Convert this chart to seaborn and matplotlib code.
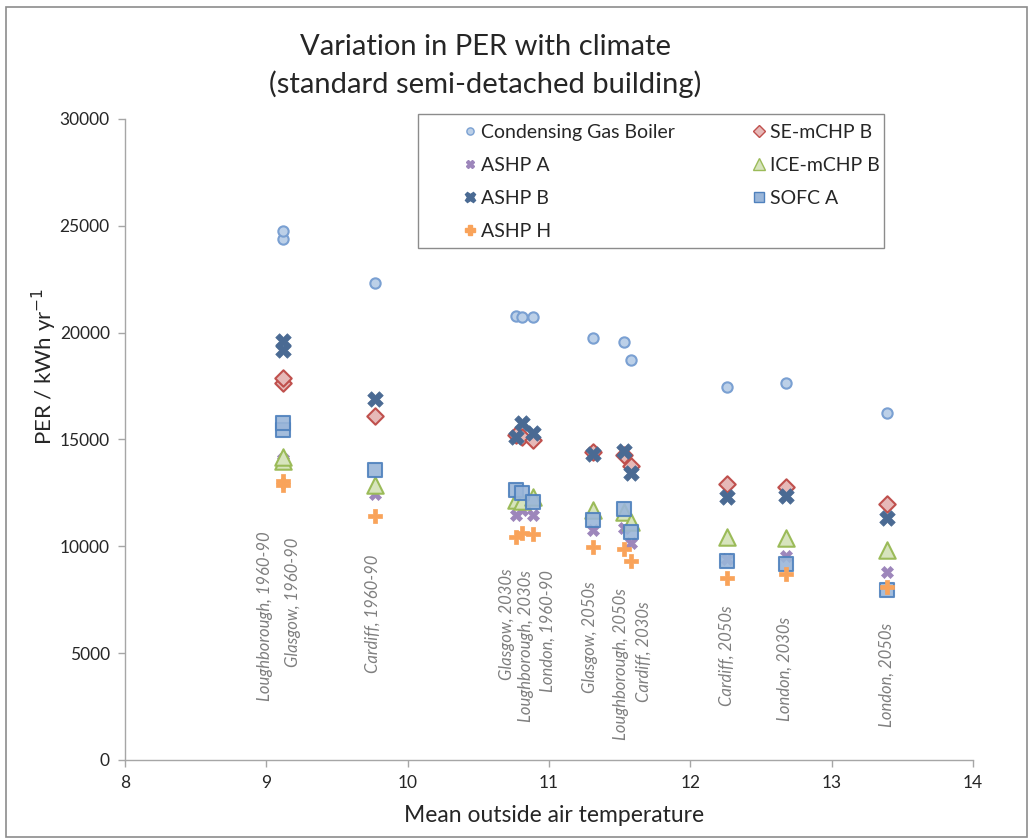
import numpy as np
import pandas as pd
import matplotlib
matplotlib.use("Agg")
import matplotlib.pyplot as plt
from matplotlib.lines import Line2D
from matplotlib.patches import Rectangle
import seaborn as sns

# ---------------------------------------------
# data
# ---------------------------------------------
locations = ["Loughborough, 1960-90", "Glasgow, 1960-90", "Cardiff, 1960-90",
             "Glasgow, 2030s", "Loughborough, 2030s", "London, 1960-90",
             "Glasgow, 2050s", "Loughborough, 2050s", "Cardiff, 2030s",
             "Cardiff, 2050s", "London, 2030s", "London, 2050s"]
mean_temp = [9.12, 9.12, 9.77, 10.77, 10.81, 10.89, 11.31, 11.53, 11.58, 12.26, 12.68, 13.39]

gas_boiler = [24370, 24760, 22340, 20790, 20720, 20720, 19730, 19580, 18720, 17470, 17630, 16250]
se_mchp_b = [17660, 17890, 16100, 15210, 15130, 14980, 14400, 14280, 13770, 12900, 12790, 11980]
ashp_a = [14000, 14100, 12450, 11470, 11700, 11470, 10760, 10840, 10170, 9410, 9560, 8780]
ice_mchp_b = [14000, 14190, 12870, 12170, 12100, 12320, 11700, 11620, 11150, 10450, 10380, 9830]
ashp_b = [19190, 19610, 16900, 15130, 15790, 15290, 14310, 14480, 13450, 12290, 12360, 11340]
sofc_a = [15440, 15760, 13570, 12640, 12480, 12090, 11230, 11730, 10680, 9330, 9160, 7960]
ashp_h = [12870, 13060, 11430, 10420, 10610, 10560, 9950, 9860, 9330, 8500, 8710, 8080]

# label placement (offset from point, top of rotated text)
label_dx = [-0.13, 0.07, -0.02, -0.07, 0.03, 0.10, -0.02, -0.02, 0.09, 0.0, -0.01, 0.0]
label_top = [10680, 10390, 9590, 8990, 8890, 8890, 8340, 8050, 7410, 7250, 6710, 6410]

series = [
    ("Condensing Gas Boiler", gas_boiler, dict(marker="o", s=55, facecolor="#bcd0e8", edgecolor="#7aa0d2", linewidth=1.5)),
    ("SE-mCHP B", se_mchp_b, dict(marker="D", s=70, facecolor="#e6b9b8", edgecolor="#c0504d", linewidth=1.5)),
    ("ASHP A", ashp_a, dict(marker="X", s=75, facecolor="#9d86bb", edgecolor="#9d86bb", linewidth=0.5)),
    ("ICE-mCHP B", ice_mchp_b, dict(marker="^", s=140, facecolor="#d7e4bd", edgecolor="#9bbb59", linewidth=1.5)),
    ("ASHP B", ashp_b, dict(marker="X", s=125, facecolor="#4a6a93", edgecolor="#4a6a93", linewidth=0.5)),
    ("SOFC A", sofc_a, dict(marker="s", s=100, facecolor="#9ab6d9", edgecolor="#4f81bd", linewidth=1.5, alpha=0.9)),
    ("ASHP H", ashp_h, dict(marker="P", s=95, facecolor="#f9a35a", edgecolor="#f9a35a", linewidth=0.5)),
]

sns.set_theme(style="white")
plt.rcParams["font.family"] = ["Lato", "DejaVu Sans"]

fig = plt.figure(figsize=(10.33, 8.39), dpi=100)
ax = fig.add_axes([125 / 1033, 1 - 760 / 839, 848 / 1033, 641 / 839])

for name, vals, style in series:
    df = pd.DataFrame({"temp": mean_temp, "per": vals})
    sns.scatterplot(data=df, x="temp", y="per", ax=ax, legend=False, **style)

for loc, t, dx, top in zip(locations, mean_temp, label_dx, label_top):
    ax.text(t + dx, top, loc, rotation=90, ha="center", va="top",
            fontsize=12, style="italic", color="#7f7f7f")

ax.set_xlim(8, 14)
ax.set_ylim(0, 30000)
ax.set_xticks(range(8, 15))
ax.set_yticks(range(0, 30001, 5000))
for side in ["top", "right"]:
    ax.spines[side].set_visible(False)
for side in ["left", "bottom"]:
    ax.spines[side].set_color("#a6a6a6")
    ax.spines[side].set_linewidth(1)
ax.tick_params(axis="both", which="major", direction="out", length=5, width=1,
               color="#a6a6a6", labelsize=12.5, labelcolor="#262626", pad=6,
               bottom=True, left=True)
ax.set_xlabel("")
ax.set_ylabel("")

fig.text(554 / 1033, 1 - 815 / 839, "Mean outside air temperature", ha="center", va="center", fontsize=16.5)
fig.text(44 / 1033, 1 - 366 / 839, "PER / kWh yr$^{-1}$", ha="center", va="center", rotation=90, fontsize=16)
fig.text(485 / 1033, 1 - 66 / 839, "Variation in PER with climate\n(standard semi-detached building)",
         ha="center", va="center", fontsize=21, linespacing=1.45)

# legend: column-first fill -> order so rows read like the original
order = ["Condensing Gas Boiler", "ASHP A", "ASHP B", "ASHP H", "SE-mCHP B", "ICE-mCHP B", "SOFC A"]
lookup = {name: style for name, _, style in series}
handles = []
for name in order:
    st = lookup[name]
    handles.append(Line2D([], [], linestyle="none", marker=st["marker"],
                          markersize=np.sqrt(st["s"]) * 0.7,
                          markerfacecolor=st["facecolor"], markeredgecolor=st["edgecolor"],
                          markeredgewidth=1, label=name))
leg = fig.legend(handles=handles, ncol=2, loc="upper left",
                 bbox_to_anchor=(452 / 1033, 1 - 114 / 839), frameon=False,
                 fontsize=14, handlelength=0.8, handletextpad=0.2,
                 columnspacing=3.9, labelspacing=0.82, borderpad=0)
fig.add_artist(Rectangle((418 / 1033, 1 - 248 / 839), 466 / 1033, 134 / 839,
                         transform=fig.transFigure, fill=False, edgecolor="#8c8c8c", linewidth=1))

# outer chart border
fig.add_artist(Rectangle((6 / 1033, 1 - 837 / 839), 1021 / 1033, 830 / 839,
                         transform=fig.transFigure, fill=False, edgecolor="#8c8c8c", linewidth=1.2))

fig.savefig("out.png", dpi=100, facecolor="white")
